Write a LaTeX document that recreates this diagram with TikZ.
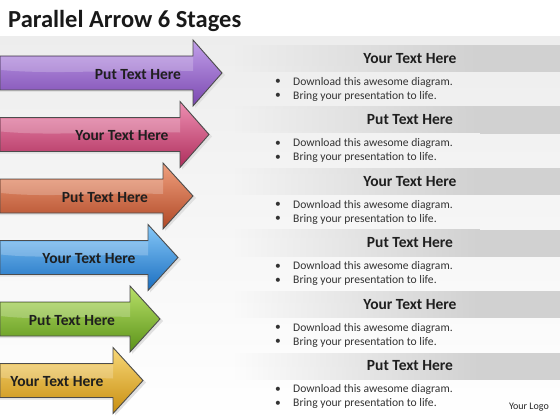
\documentclass[tikz,border=0pt]{standalone}
\usepackage{fontspec}
\setmainfont{Carlito}
\usetikzlibrary{fadings}
\tikzfading[name=bandfade, left color=transparent!100, right color=transparent!0]
\definecolor{purpL}{HTML}{C2A0EA}\definecolor{purpM}{HTML}{9A68D2}\definecolor{purpD}{HTML}{7A48B0}
\definecolor{pinkL}{HTML}{EE8FB2}\definecolor{pinkM}{HTML}{CF4A7C}\definecolor{pinkD}{HTML}{AE2E5C}
\definecolor{oranL}{HTML}{F0A07E}\definecolor{oranM}{HTML}{D2623A}\definecolor{oranD}{HTML}{B04826}
\definecolor{blueL}{HTML}{86C8F8}\definecolor{blueM}{HTML}{2F90E2}\definecolor{blueD}{HTML}{1A6EC0}
\definecolor{grenL}{HTML}{B8E068}\definecolor{grenM}{HTML}{7CB62C}\definecolor{grenD}{HTML}{5A9218}
\definecolor{yeloL}{HTML}{F8D878}\definecolor{yeloM}{HTML}{E8B228}\definecolor{yeloD}{HTML}{C88E10}
\begin{document}
\begin{tikzpicture}[x=1pt,y=-1pt,
  arrowline/.style={draw=black!70,line width=0.9pt,line join=miter},
  arrowlabel/.style={font=\fontsize{15.5}{17}\selectfont\bfseries,text=black!88,inner sep=0},
  headtext/.style={font=\fontsize{15.5}{17}\selectfont\bfseries,text=black!88,inner sep=0},
  bullettext/.style={font=\fontsize{11.6}{14}\selectfont,text=black!80,inner sep=0,anchor=west},
  bulletdot/.style={font=\fontsize{11.5}{14}\selectfont,text=black!80,inner sep=0},
]
\useasboundingbox (0,0) rectangle (560,420);
\fill[white] (0,0) rectangle (560,420);
\shade[top color=black!7,bottom color=white] (0,37) rectangle (560,420);
\node[anchor=base west,inner sep=0,font=\fontsize{24.5}{27}\selectfont\bfseries,text=black!90] (title) at (8,28) {Parallel Arrow 6 Stages};
% right-hand panels
\foreach \c/\hd [count=\i] in {73/Your,134.5/Put,196/Your,257.5/Put,319/Your,380.5/Put}{
  \fill[black!18,path fading=bandfade] (235,\c-28) rectangle (480,\c-1);
  \fill[black!18] (480,\c-28) rectangle (560,\c-1);
  \node[headtext] (hd\i) at (410,\c-14.5) {\hd{} Text Here};
  \node[bulletdot] (ba\i) at (278,\c+9) {•};
  \node[bullettext] (ta\i) at (293,\c+9) {Download this awesome diagram.};
  \node[bulletdot] (bb\i) at (278,\c+23) {•};
  \node[bullettext] (tb\i) at (293,\c+23) {Bring your presentation to life.};
}
% arrows
\foreach \c/\hb/\tp/\cl/\cm/\cd/\lab/\lx [count=\i] in {
  73/193/222/purpL/purpM/purpD/Put/138,
  134.5/180/209/pinkL/pinkM/pinkD/Your/122,
  196/163/193/oranL/oranM/oranD/Put/105,
  257.5/148/178/blueL/blueM/blueD/Your/89,
  319/130/160/grenL/grenM/grenD/Put/72,
  380.5/113/143/yeloL/yeloM/yeloD/Your/57}{
  \fill[black!12] (0,\c-15) -- (\hb+2,\c-15) -- (\hb+2,\c-31) -- (\tp+3,\c+2) -- (\hb+2,\c+35) -- (\hb+2,\c+19) -- (0,\c+19) -- cycle;
  \shade[arrowline,top color=\cl,middle color=\cm,bottom color=\cd]
    (0,\c-17) -- (\hb,\c-17) -- (\hb,\c-33) -- (\tp,\c) -- (\hb,\c+33) -- (\hb,\c+17) -- (0,\c+17) -- cycle;
  \fill[white,opacity=0.22] (1,\c-16) -- (\hb,\c-16) -- (\hb,\c-2) .. controls (\hb*0.6,\c-4) and (\hb*0.3,\c+2) .. (1,\c-3) -- cycle;
  \node[arrowlabel] (lab\i) at (\lx,\c+1.5) {\lab{} Text Here};
}
\node[anchor=base east,inner sep=0,font=\fontsize{10}{12}\selectfont,text=black!85] (logo) at (549,409) {Your Logo};
\end{tikzpicture}
\end{document}
